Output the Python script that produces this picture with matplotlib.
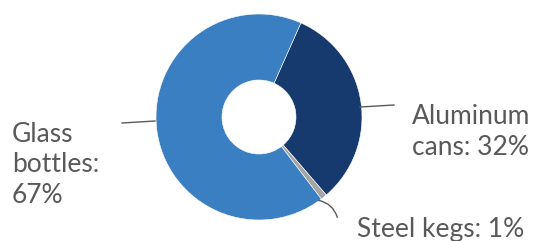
import matplotlib.pyplot as plt
from matplotlib.patches import FancyArrowPatch

labels = ['Aluminum\ncans: 32%', 'Steel kegs: 1%', 'Glass\nbottles:\n67%']
shares = [32, 1, 67]
colors = ['#173A6E', '#A5A5A5', '#3A7FC2']

plt.rcParams['font.family'] = ['Lato', 'DejaVu Sans']

fig = plt.figure(figsize=(5.36, 2.41), dpi=100)
ax = fig.add_axes([0, 0, 1, 1])

# donut, centre/size in pixel units of the figure
ax.pie(shares, colors=colors, startangle=66, counterclock=False,
       center=(259, 124), radius=103,
       wedgeprops=dict(width=103 - 37, edgecolor='white', linewidth=0.4))

ax.set_xlim(0, 536)
ax.set_ylim(0, 241)
ax.set_aspect('equal')
ax.axis('off')

txt = dict(color='#595959', fontsize=19, linespacing=1.27)
line = dict(color='#595959', lw=1)

# Aluminum
ax.plot([360, 394], [134, 136], **line)
ax.text(412, 109, labels[0], ha='left', va='center', **txt)

# Steel kegs
arr = FancyArrowPatch((316, 41), (338, 21), arrowstyle='-',
                      connectionstyle='arc3,rad=-0.35', **line)
ax.add_patch(arr)
ax.text(357, 11, labels[1], ha='left', va='center', **txt)

# Glass bottles
ax.plot([122, 155], [118, 120], **line)
ax.text(12, 76, labels[2], ha='left', va='center', **txt)

fig.savefig('out.png', dpi=100)
